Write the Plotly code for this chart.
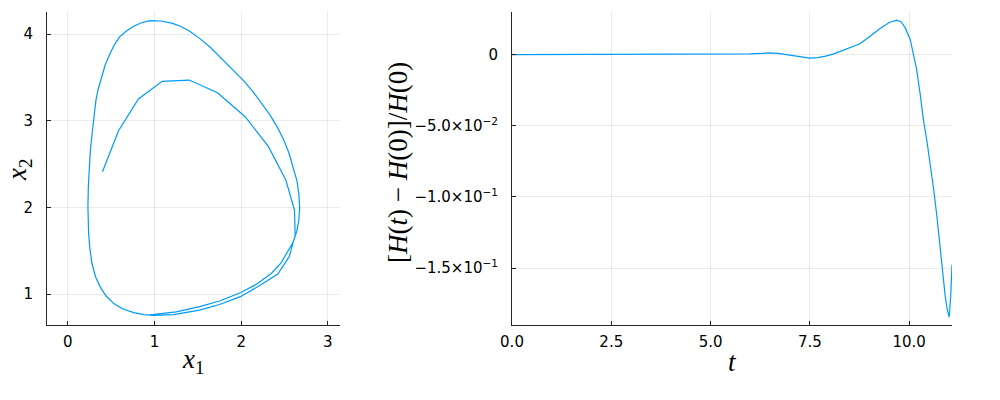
import plotly.graph_objects as go

# Phase portrait (x1, x2) in trajectory order
x1_vals = [0.95, 1.0, 1.25, 1.52, 1.75, 1.99, 2.18, 2.35, 2.46, 2.54, 2.60, 2.64, 2.665, 2.675, 2.665,
           2.645, 2.60, 2.55, 2.49, 2.42, 2.33, 2.24, 2.14, 2.03, 1.91, 1.78, 1.64, 1.52, 1.41, 1.30,
           1.20, 1.07, 0.95, 0.85, 0.76, 0.67, 0.60, 0.54, 0.49, 0.43, 0.39, 0.35, 0.325, 0.30, 0.28,
           0.26, 0.248, 0.237, 0.232, 0.235, 0.240, 0.255, 0.278, 0.32, 0.375, 0.44, 0.53, 0.63, 0.76,
           0.88, 0.99, 1.22, 1.52, 1.75, 1.99, 2.20, 2.423, 2.554, 2.623, 2.615, 2.515, 2.315, 2.046,
           1.727, 1.40, 1.088, 0.815, 0.585, 0.40]
x2_vals = [0.762, 0.765, 0.795, 0.855, 0.92, 1.015, 1.115, 1.24, 1.36, 1.49, 1.60, 1.72, 1.85, 2.00, 2.15,
           2.30, 2.47, 2.63, 2.78, 2.92, 3.07, 3.20, 3.33, 3.46, 3.58, 3.72, 3.85, 3.95, 4.03, 4.09,
           4.125, 4.15, 4.154, 4.13, 4.09, 4.03, 3.97, 3.88, 3.78, 3.64, 3.51, 3.36, 3.24, 3.05, 2.85,
           2.65, 2.47, 2.25, 2.01, 1.85, 1.70, 1.52, 1.355, 1.20, 1.08, 0.98, 0.89, 0.83, 0.785,
           0.762, 0.755, 0.762, 0.815, 0.88, 0.97, 1.09, 1.231, 1.431, 1.68, 1.97, 2.315, 2.70, 3.046,
           3.323, 3.469, 3.454, 3.25, 2.885, 2.41]

# Relative energy error
t_vals = [0, 1, 2, 3, 4, 5, 5.5, 6.0, 6.3, 6.5, 6.7, 6.9, 7.1, 7.3, 7.5, 7.7, 7.9, 8.1, 8.26, 8.5,
          8.75, 9.02, 9.25, 9.5, 9.69, 9.8, 9.9, 10.03, 10.11, 10.19, 10.28, 10.36, 10.45, 10.53,
          10.62, 10.70, 10.76, 10.82, 10.91, 10.96, 11.01, 11.05, 11.08]
h_err = [0, 0, 0, 0, 0, 0.0001, 0.0002, 0.0005, 0.0009, 0.0012, 0.0009, 0.0001, -0.0011, -0.0020,
         -0.0024, -0.0020, -0.0010, 0.0006, 0.0023, 0.0045, 0.0075, 0.0129, 0.0180, 0.0226, 0.0242,
         0.0230, 0.0190, 0.0105, 0.0010, -0.0105, -0.0280, -0.0457, -0.0610, -0.0762, -0.0950,
         -0.1137, -0.1300, -0.1465, -0.1700, -0.1790, -0.1845, -0.1680, -0.1477]

left_xticks = [0, 1, 2, 3]
left_yticks = [1, 2, 3, 4]
right_xticks = [0, 2.5, 5, 7.5, 10]
right_xtext = ["0.0", "2.5", "5.0", "7.5", "10.0"]
right_yticks = [0, -0.05, -0.1, -0.15]
right_ytext = ["0", "\u22125.0\u00d710<sup>\u22122</sup>", "\u22121.0\u00d710<sup>\u22121</sup>",
               "\u22121.5\u00d710<sup>\u22121</sup>"]

LINE = "#009AFA"
fig = go.Figure()
fig.add_trace(go.Scatter(x=x1_vals, y=x2_vals, mode="lines", line=dict(color=LINE, width=1.2),
                         xaxis="x", yaxis="y", showlegend=False))
fig.add_trace(go.Scatter(x=t_vals, y=h_err, mode="lines", line=dict(color=LINE, width=1.2),
                         xaxis="x2", yaxis="y2", showlegend=False))

tickfont = dict(family="DejaVu Sans, sans-serif", size=15, color="black")
common = dict(showline=True, linecolor="rgba(0,0,0,0.85)", linewidth=1, ticks="inside", ticklen=4,
              tickcolor="rgba(0,0,0,0.85)", showgrid=True, gridcolor="rgba(0,0,0,0.08)", gridwidth=1,
              zeroline=False, tickfont=tickfont, mirror=False, automargin=False)
xc = dict(common, ticklabelstandoff=3)
yc = dict(common, ticklabelstandoff=10)

fig.update_layout(
    width=1000, height=400, margin=dict(l=0, r=0, t=0, b=0, autoexpand=False),
    plot_bgcolor="white", paper_bgcolor="white", showlegend=False,
    xaxis=dict(domain=[0.047, 0.340], range=[-0.24, 3.14], tickvals=left_xticks, anchor="y", **xc),
    yaxis=dict(domain=[0.1875, 0.97], range=[0.643, 4.254], tickvals=left_yticks, anchor="x", **yc),
    xaxis2=dict(domain=[0.512, 0.952], range=[0, 11.08], tickvals=right_xticks, ticktext=right_xtext,
                anchor="y2", **xc),
    yaxis2=dict(domain=[0.1875, 0.97], range=[-0.19, 0.030], tickvals=right_yticks, ticktext=right_ytext,
                anchor="x2", **yc),
)

mfont = dict(family="Liberation Serif, Times New Roman, serif", size=27, color="black")
fig.add_annotation(text="<i>x</i><sub>1</sub>", x=0.193, y=(400 - 361) / 400, xref="paper", yref="paper",
                   showarrow=False, font=mfont, xanchor="center", yanchor="middle")
fig.add_annotation(text="<i>x</i><sub>2</sub>", x=0.019, y=(400 - 170) / 400, xref="paper", yref="paper",
                   showarrow=False, font=mfont, xanchor="center", yanchor="middle", textangle=-90)
fig.add_annotation(text="<i>t</i>", x=0.732, y=(400 - 362) / 400, xref="paper", yref="paper",
                   showarrow=False, font=mfont, xanchor="center", yanchor="middle")
fig.add_annotation(text="[<i>H</i>(<i>t</i>) \u2212 <i>H</i>(0)]/<i>H</i>(0)", x=0.398, y=(400 - 163) / 400,
                   xref="paper", yref="paper", showarrow=False, font=mfont, xanchor="center",
                   yanchor="middle", textangle=-90)

fig.write_html("out.html", config={"displayModeBar": False},
               post_script="document.body.style.margin='0';")
